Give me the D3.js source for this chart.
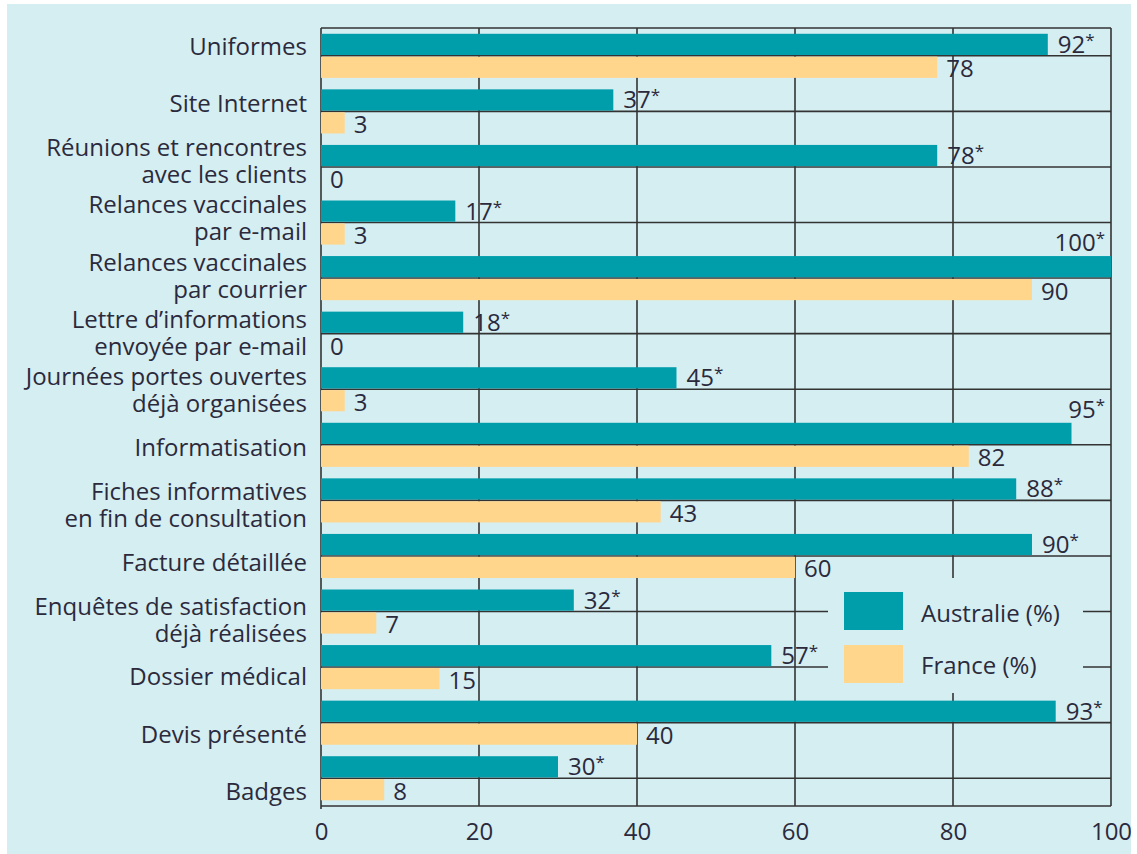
<!DOCTYPE html>
<html>
<head>
<meta charset="utf-8">
<script src="https://cdn.jsdelivr.net/npm/d3@7"></script>
<style>
  body { margin: 0; background: #fff; }
  text { font-family: "Open Sans", sans-serif; fill: #2b2a3c; }
</style>
</head>
<body>
<svg id="chart" width="1137" height="854"></svg>
<script>
// categories top to bottom (label lines)
const categories = [
  ["Uniformes"],
  ["Site Internet"],
  ["Réunions et rencontres", "avec les clients"],
  ["Relances vaccinales", "par e-mail"],
  ["Relances vaccinales", "par courrier"],
  ["Lettre d’informations", "envoyée par e-mail"],
  ["Journées portes ouvertes", "déjà organisées"],
  ["Informatisation"],
  ["Fiches informatives", "en fin de consultation"],
  ["Facture détaillée"],
  ["Enquêtes de satisfaction", "déjà réalisées"],
  ["Dossier médical"],
  ["Devis présenté"],
  ["Badges"]
];
const australie = [92, 37, 78, 17, 100, 18, 45, 95, 88, 90, 32, 57, 93, 30];
const france    = [78, 3, 0, 3, 90, 0, 3, 82, 43, 60, 7, 15, 40, 8];
const xTicks = [0, 20, 40, 60, 80, 100];
const seriesNames = ["Australie (%)", "France (%)"];

const colAus = "#009dab", colFr = "#ffd68c", bg = "#d5eef2", lineCol = "#333";
const fs = 24;

const svg = d3.select("#chart");
svg.append("rect").attr("x", 7).attr("y", 4).attr("width", 1124).attr("height", 850).attr("fill", bg);

const keys = categories.map(c => c.join(" "));
const x = d3.scaleLinear().domain([0, 100]).range([321, 1111]);
const y = d3.scaleBand().domain(keys).range([28, 806]);
const yLabel = d3.scalePoint().domain(keys).range([45, 790]);
const bw = y.bandwidth();
const cy = k => y(k) + bw / 2;

const yTop = y.range()[0], yBottom = y.range()[1];

// horizontal lines at band centers
svg.append("g").selectAll("line").data(keys).join("line")
  .attr("x1", x(0)).attr("x2", x(100))
  .attr("y1", d => cy(d)).attr("y2", d => cy(d))
  .attr("stroke", lineCol).attr("stroke-width", 1.6);

// vertical gridlines
svg.append("g").selectAll("line").data(xTicks).join("line")
  .attr("x1", d => x(d)).attr("x2", d => x(d))
  .attr("y1", yTop).attr("y2", d => d === 0 ? yBottom + 3 : yBottom)
  .attr("stroke", lineCol).attr("stroke-width", 1.6);

// frame top / bottom
[yTop, yBottom].forEach(v => svg.append("line")
  .attr("x1", x(0)).attr("x2", x(100)).attr("y1", v).attr("y2", v)
  .attr("stroke", lineCol).attr("stroke-width", 1.6));

// legend background hides the grid
svg.append("rect").attr("x", 828).attr("y", 578).attr("width", 255).attr("height", 115).attr("fill", bg);

// bars
const rows = keys.map((k, i) => ({k, aus: australie[i], fr: france[i]}));
const gb = svg.append("g");
gb.selectAll(".aus").data(rows).join("rect")
  .attr("x", x(0)).attr("y", d => cy(d.k) - 22)
  .attr("width", d => x(d.aus) - x(0)).attr("height", 21.2)
  .attr("fill", colAus);
gb.selectAll(".fr").data(rows).join("rect")
  .attr("x", x(0)).attr("y", d => cy(d.k) + 0.9)
  .attr("width", d => x(d.fr) - x(0)).attr("height", 21.2)
  .attr("fill", colFr);

// value labels
const gl = svg.append("g").attr("font-size", fs);
gl.selectAll(".va").data(rows).join("text")
  .attr("x", d => x(d.aus) + 10).attr("y", d => cy(d.k) - 13)
  .attr("dominant-baseline", "central")
  .each(function(d) {
    const t = d3.select(this);
    t.append("tspan").text(d.aus);
    t.append("tspan").attr("font-size", 17).attr("dy", -4).text("*");
    const w = this.getComputedTextLength();
    if (x(d.aus) + 10 + w > x(100) - 4) {
      t.attr("text-anchor", "end").attr("x", x(100) - 6).attr("y", cy(d.k) - 37);
    }
  });
gl.selectAll(".vf").data(rows).join("text")
  .attr("x", d => x(d.fr) + 9).attr("y", d => cy(d.k) + 12)
  .attr("dominant-baseline", "central")
  .text(d => d.fr);

// category labels
const gc = svg.append("g").attr("font-size", fs).attr("text-anchor", "end");
categories.forEach((lines, i) => {
  const t = gc.append("text").attr("x", 307).attr("y", yLabel(keys[i])).attr("dominant-baseline", "central");
  lines.forEach((ln, j) => {
    t.append("tspan").attr("x", 307)
      .attr("y", yLabel(keys[i]) + (j - (lines.length - 1) / 2) * 27)
      .text(ln);
  });
});

// x axis tick labels
const xAxis = d3.axisBottom(x).tickValues(xTicks).tickSize(0).tickPadding(17).tickFormat(d3.format("d"));
const ax = svg.append("g").attr("transform", `translate(0,${yBottom})`).call(xAxis);
ax.select(".domain").remove();
ax.selectAll("text").attr("font-size", fs).attr("font-family", "Open Sans, sans-serif").attr("fill", "#2b2a3c");

// legend
const leg = svg.append("g");
[colAus, colFr].forEach((c, i) => {
  leg.append("rect").attr("x", 844).attr("y", 592 + i * 53).attr("width", 59).attr("height", 38).attr("fill", c);
  leg.append("text").attr("x", 921).attr("y", 612 + i * 52).attr("dominant-baseline", "central")
    .attr("font-size", fs).text(seriesNames[i]);
});
</script>
</body>
</html>
